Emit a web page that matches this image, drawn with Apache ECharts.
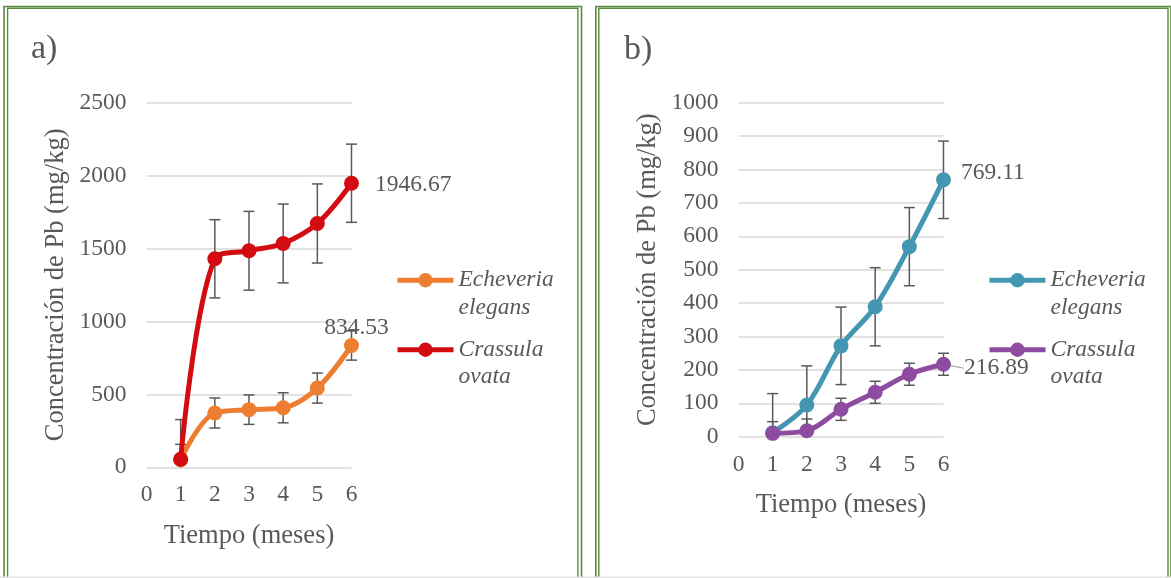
<!DOCTYPE html>
<html>
<head>
<meta charset="utf-8">
<script src="https://cdn.jsdelivr.net/npm/echarts@6/dist/echarts.min.js"></script>
<style>
  html, body { margin: 0; padding: 0; background: #ffffff; }
  #chart { width: 1171px; height: 578px; }
</style>
</head>
<body>
<div id="chart"></div>
<script>
// Sampling months (x positions of the points)
const months = [1, 2, 3, 4, 5, 6];
const monthTicks = [0, 1, 2, 3, 4, 5, 6];

// Panel a) Pb concentration (mg/kg) and standard deviation
const echeveriaA = [52, 372, 395, 408, 543, 834.53];
const echeveriaAErr = [105, 103, 101, 103, 103, 100];
const crassulaA = [55, 1429, 1484, 1534, 1671, 1946.67];
const crassulaAErr = [272, 268, 270, 270, 271, 268];
const yTicksA = [0, 500, 1000, 1500, 2000, 2500];

// Panel b) Pb concentration (mg/kg) and standard deviation
const echeveriaB = [12, 95, 272, 389, 569, 769.11];
const echeveriaBErr = [117, 117, 116, 117, 117, 116];
const crassulaB = [10, 18, 82, 133, 187, 216.89];
const crassulaBErr = [35, 35, 33, 33, 33, 33];
const yTicksB = [0, 100, 200, 300, 400, 500, 600, 700, 800, 900, 1000];

const speciesE = 'Echeveria elegans';
const speciesC = 'Crassula ovata';
const panelTitles = ['a)', 'b)'];
const xTitle = 'Tiempo (meses)';
const yTitle = 'Concentración de Pb (mg/kg)';

const FONT = '"Liberation Serif", "Times New Roman", serif';
const TEXT = '#595959';
const GREEN = '#5a8a3c';

function points(vals, labelCfg) {
  return months.map((m, i) => {
    const item = { value: [m, vals[i]] };
    if (i === vals.length - 1 && labelCfg) item.label = labelCfg;
    return item;
  });
}
function errRows(vals, errs) {
  return months.map((m, i) => [m, vals[i], errs[i]]);
}

// vertical error bar with caps, clipped at the axis floor
function errorBar(params, api) {
  const x = api.value(0), y = api.value(1), e = api.value(2);
  const low = Math.max(0, y - e), high = y + e;
  const pH = api.coord([x, high]);
  const pL = api.coord([x, low]);
  const half = 5.5;
  const st = { stroke: '#595959', lineWidth: 1.5 };
  const children = [
    { type: 'line', shape: { x1: pH[0], y1: pH[1], x2: pL[0], y2: pL[1] }, style: st },
    { type: 'line', shape: { x1: pH[0] - half, y1: pH[1], x2: pH[0] + half, y2: pH[1] }, style: st }
  ];
  if (y - e >= 0) {
    children.push({ type: 'line', shape: { x1: pL[0] - half, y1: pL[1], x2: pL[0] + half, y2: pL[1] }, style: st });
  }
  return { type: 'group', children };
}

function lineSeries(name, vals, color, axis, labelCfg, extra) {
  return Object.assign({
    name: name,
    type: 'line',
    xAxisIndex: axis, yAxisIndex: axis,
    data: points(vals, labelCfg),
    smooth: 0.35,
    symbol: 'circle',
    symbolSize: 15,
    lineStyle: { color: color, width: 5 },
    itemStyle: { color: color },
    label: { show: false },
    z: 3
  }, extra || {});
}
function errSeries(vals, errs, axis) {
  return {
    type: 'custom',
    xAxisIndex: axis, yAxisIndex: axis,
    data: errRows(vals, errs),
    encode: { x: 0, y: 1 },
    renderItem: errorBar,
    silent: true,
    z: 2
  };
}

function labelStyle(extra) {
  return Object.assign({
    show: true,
    fontFamily: FONT, fontSize: 23.5, color: TEXT,
    formatter: p => p.value[1].toFixed(2)
  }, extra);
}

function xAxisCfg(gridIndex) {
  return {
    type: 'value', gridIndex: gridIndex,
    min: monthTicks[0], max: monthTicks[monthTicks.length - 1], interval: 1,
    axisLine: { show: false }, axisTick: { show: false }, splitLine: { show: false },
    axisLabel: { fontFamily: FONT, fontSize: 23.5, color: TEXT, margin: 16, formatter: v => String(v) },
    name: xTitle, nameLocation: 'middle', nameGap: 55,
    nameTextStyle: { fontFamily: FONT, fontSize: 26.5, color: TEXT }
  };
}
function yAxisCfg(gridIndex, ticks) {
  return {
    type: 'value', gridIndex: gridIndex,
    min: ticks[0], max: ticks[ticks.length - 1], interval: ticks[1] - ticks[0],
    axisLine: { show: false }, axisTick: { show: false },
    splitLine: { show: true, lineStyle: { color: '#d9d9d9', width: 1.5 } },
    axisLabel: { fontFamily: FONT, fontSize: 23.5, color: TEXT, margin: 20, formatter: v => String(v) },
    name: yTitle, nameLocation: 'middle', nameGap: 77, nameRotate: 90,
    nameTextStyle: { fontFamily: FONT, fontSize: 26.5, color: TEXT }
  };
}

function legendCfg(seriesName, shown, left, top) {
  return {
    data: [seriesName],
    left: left, top: top, orient: 'vertical', padding: 0,
    itemWidth: 56, itemHeight: 18,
    selectedMode: false,
    lineStyle: { width: 5 },
    textStyle: { fontFamily: FONT, fontStyle: 'italic', fontSize: 23.5, color: TEXT, lineHeight: 27.5 },
    formatter: () => '\n' + shown.split(' ').join('\n')
  };
}

// panel frames: double green rule on each panel
function frame(x1, x2, inset) {
  return [
    { type: 'rect', silent: true, shape: { x: x1, y: 6.5, width: x2 - x1, height: 640 },
      style: { fill: 'none', stroke: GREEN, lineWidth: 1.6 } },
    { type: 'rect', silent: true, shape: { x: x1 + inset, y: 8.3, width: x2 - x1 - 2 * inset, height: 640 },
      style: { fill: 'none', stroke: GREEN, lineWidth: 1.4 } }
  ];
}

const chart = echarts.init(document.getElementById('chart'), null, { renderer: 'canvas' });

const nameEA = speciesE + ' (a)', nameCA = speciesC + ' (a)';
const nameEB = speciesE + ' (b)', nameCB = speciesC + ' (b)';

chart.setOption({
  animation: false,
  backgroundColor: '#ffffff',
  grid: [
    { left: 146.5, top: 102.5, width: 205, height: 364.8 },
    { left: 738.5, top: 102.7, width: 205, height: 334 }
  ],
  xAxis: [xAxisCfg(0), xAxisCfg(1)],
  yAxis: [yAxisCfg(0, yTicksA), yAxisCfg(1, yTicksB)],
  legend: [
    legendCfg(nameEA, speciesE, 395, 239),
    legendCfg(nameCA, speciesC, 395, 308.5),
    legendCfg(nameEB, speciesE, 987, 239),
    legendCfg(nameCB, speciesC, 987, 308.5)
  ],
  graphic: [
    ...frame(4, 581.5, 3.6),
    ...frame(595.8, 1171, 3),
    { type: 'line', silent: true, shape: { x1: 0, y1: 577.2, x2: 1171, y2: 577.2 },
      style: { stroke: '#e4e4e4', lineWidth: 1.5 } },
    { type: 'text', silent: true, x: 31, y: 49,
      style: { text: panelTitles[0], font: '34px ' + FONT, fill: TEXT, verticalAlign: 'middle' } },
    { type: 'text', silent: true, x: 624, y: 50,
      style: { text: panelTitles[1], font: '34px ' + FONT, fill: TEXT, verticalAlign: 'middle' } }
  ],
  series: [
    errSeries(echeveriaA, echeveriaAErr, 0),
    errSeries(crassulaA, crassulaAErr, 0),
    lineSeries(nameEA, echeveriaA, '#ed7d31', 0, labelStyle({ position: 'top', distance: 2, offset: [5, 4] })),
    lineSeries(nameCA, crassulaA, '#d20c10', 0, labelStyle({ position: 'right', distance: 16, offset: [0, 2] })),
    errSeries(echeveriaB, echeveriaBErr, 1),
    errSeries(crassulaB, crassulaBErr, 1),
    lineSeries(nameEB, echeveriaB, '#4397b3', 1, labelStyle({ position: 'right', distance: 10, offset: [0, -7] })),
    lineSeries(nameCB, crassulaB, '#8e4ca0', 1, labelStyle({ position: 'right', distance: 3 }), {
      labelLayout: { dx: 10, dy: 4 },
      labelLine: { show: true, length2: 0, lineStyle: { color: '#a6a6a6', width: 1.2 } }
    })
  ]
});
</script>
</body>
</html>
